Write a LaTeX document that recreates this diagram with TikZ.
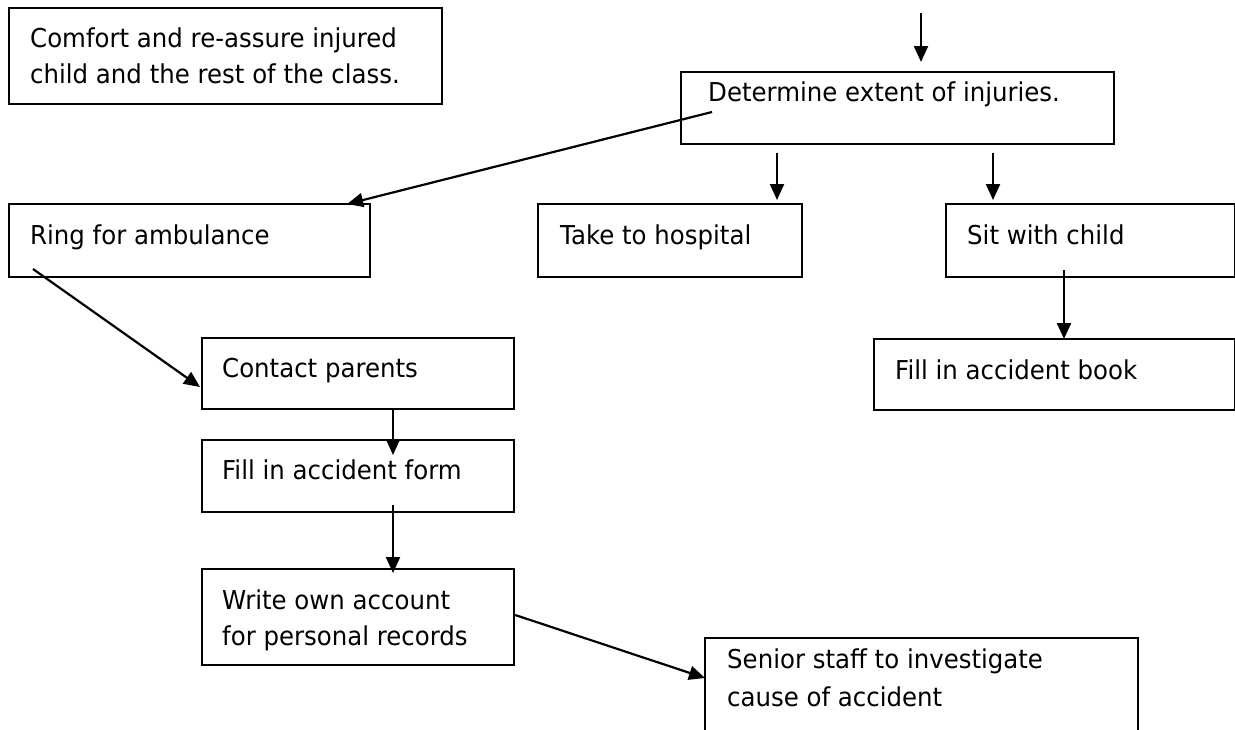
\documentclass[tikz,border=0pt]{standalone}
\usepackage{fontspec}
\setmainfont{DejaVu Sans}[FakeStretch=0.94]
\usetikzlibrary{arrows.meta,calc}
\begin{document}
\begin{tikzpicture}[x=1pt,y=-1pt,
  box/.style={draw,line width=2.2pt,rectangle,inner sep=0pt,anchor=north west},
  txt/.style={anchor=base west,inner sep=0pt,align=left,font=\fontsize{26}{36}\selectfont},
  arr/.style={line width=2.2pt,-{Triangle[length=16pt,width=14pt]}}]
\clip (0,0) rectangle (1235,729);
\fill[white] (0,0) rectangle (1235,729);
% boxes
\node[box,minimum width=433,minimum height=96] (comfort) at (8,7) {};
\node[box,minimum width=433,minimum height=72] (det) at (680,71) {};
\node[box,minimum width=361,minimum height=73] (ring) at (8,203) {};
\node[box,minimum width=264,minimum height=73] (hosp) at (537,203) {};
\node[box,minimum width=289,minimum height=73] (sit) at (945,203) {};
\node[box,minimum width=361,minimum height=71] (book) at (873,338) {};
\node[box,minimum width=312,minimum height=71] (contact) at (201,337) {};
\node[box,minimum width=312,minimum height=72] (form) at (201,439) {};
\node[box,minimum width=312,minimum height=96] (write) at (201,568) {};
\node[box,minimum width=433,minimum height=110] (senior) at (704,637) {};
% texts (multi-line nodes are placed by the baseline of their last line)
\node[txt] (comfortT) at (30,83) {Comfort and re-assure injured\\child and the rest of the class.};
\node[txt] (detT) at (708,101) {Determine extent of injuries.};
\node[txt] (ringT) at (30,244) {Ring for ambulance};
\node[txt] (hospT) at (560,244) {Take to hospital};
\node[txt] (sitT) at (967,244) {Sit with child};
\node[txt] (bookT) at (895,379) {Fill in accident book};
\node[txt] (contactT) at (222,377) {Contact parents};
\node[txt] (formT) at (222,479) {Fill in accident form};
\node[txt] (writeT) at (222,645) {Write own account\\for personal records};
\node[txt] (seniorT) at (727,706) {Senior staff to investigate\\[2pt]cause of accident};
% connectors
\coordinate (in) at (921,13);
\draw[arr] (in) -- ([yshift=9pt]in |- det.north);
\draw[arr] ($(det.north west)+(32,41)$) -- ($(ring.north east)+(-24,1)$);
\draw[arr] ($(hosp.north west)+(240,-50)$) -- ($(hosp.north west)+(240,-3)$);
\draw[arr] ($(sit.north west)+(48,-50)$) -- ($(sit.north west)+(48,-3)$);
\draw[arr] ($(sit.north west)+(119,67)$) -- ($(book.north west)+(191,1)$);
\draw[arr] ($(ring.north west)+(25,66)$) -- ($(contact.north west)+(-1,50)$);
\draw[arr] ($(contact.south west)+(192,0)$) -- ($(form.north west)+(192,16)$);
\draw[arr] ($(form.south west)+(192,-8)$) -- ($(write.north west)+(192,5)$);
\draw[arr] ($(write.north east)+(0,47)$) -- ($(senior.north west)+(1,41)$);
\end{tikzpicture}
\end{document}
